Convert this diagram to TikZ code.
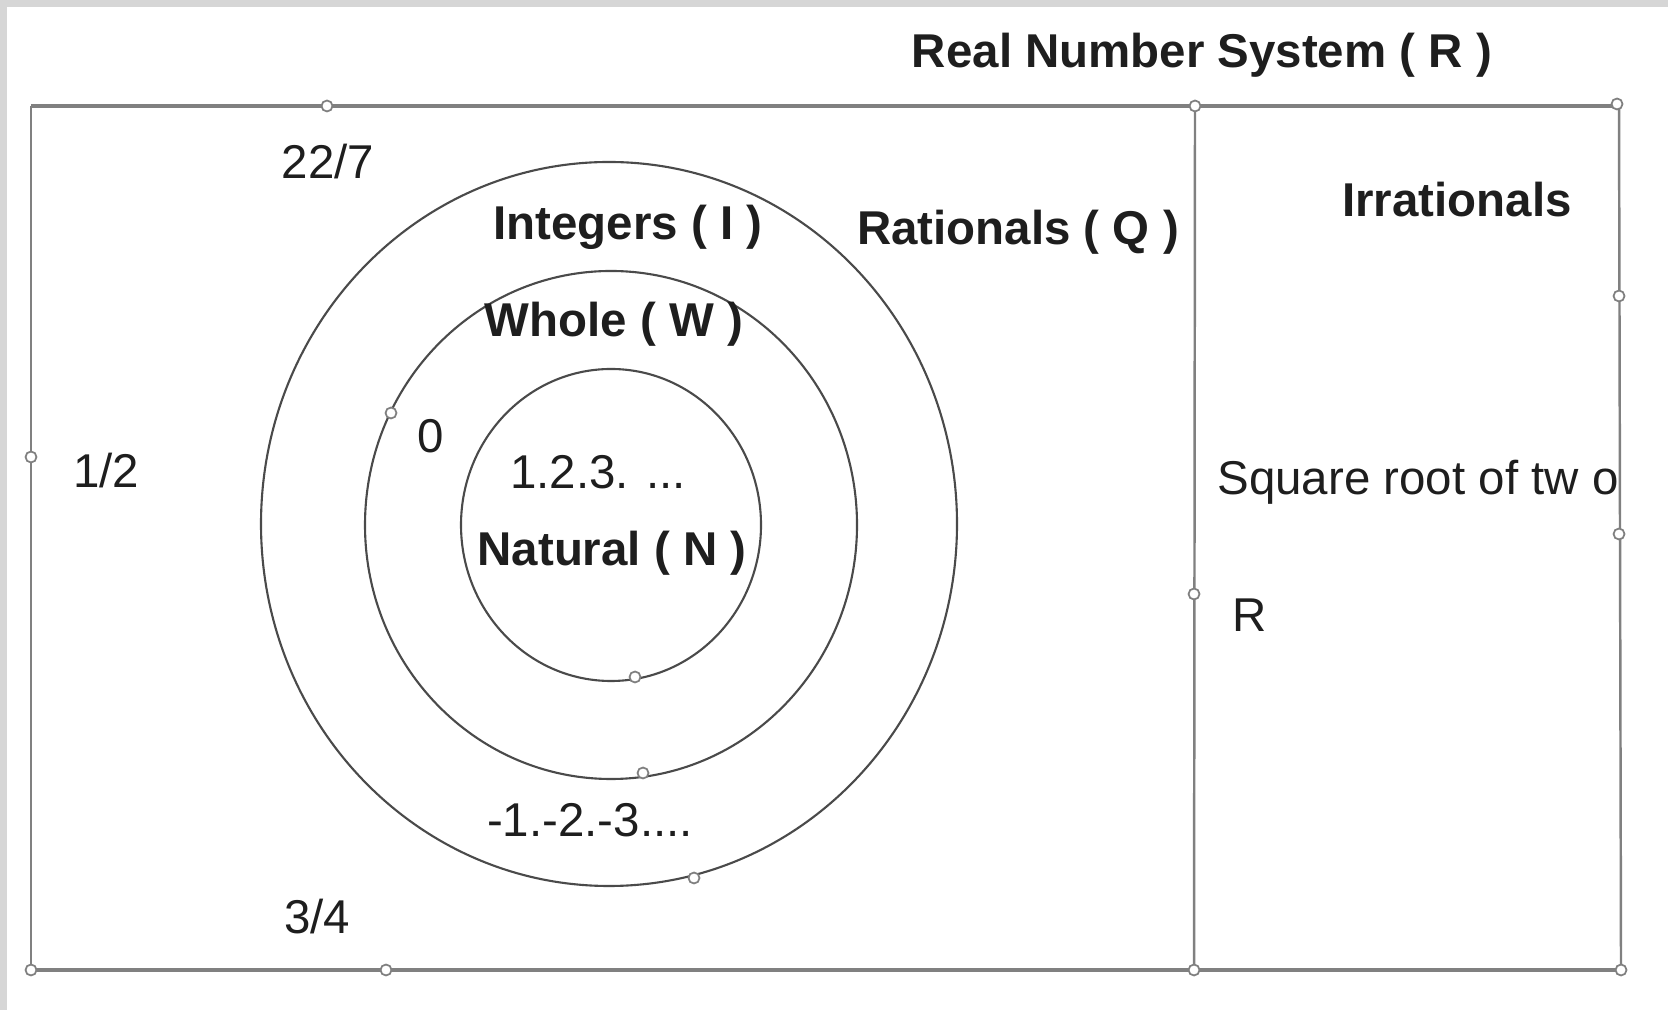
\documentclass[tikz,border=0pt]{standalone}
\usepackage{fontspec}
\setmainfont{Liberation Sans}
\definecolor{frame}{HTML}{808080}
\definecolor{ring}{HTML}{4A4A4A}
\definecolor{ink}{HTML}{1E1E1E}
\definecolor{edge}{HTML}{D6D6D6}

\begin{document}
\begin{tikzpicture}[x=0.1mm, y=0.1mm, every node/.style={text=ink},
    setname/.style={font=\bfseries\fontsize{13.5}{16}\selectfont},
    member/.style={font=\fontsize{13.5}{16}\selectfont},
    handle/.style={circle, draw=frame, fill=white, line width=0.5pt, inner sep=0pt, minimum size=1.1mm}]
  \useasboundingbox (0,0) rectangle (1668,1010);
  % Light textured edge of the original image.
  \fill[edge] (0,1003) rectangle (1668,1010);
  \fill[edge] (0,0) rectangle (7,1010);

  % Corners of the real-number box and the divider.
  \coordinate (tl) at (31,904);
  \coordinate (tr) at (1619,904);
  \coordinate (bl) at (31,40);
  \coordinate (br) at (1621,40);
  \coordinate (dt) at (1195,904);
  \coordinate (db) at (1194,40);
  \draw[frame,line width=1.1pt] (tl) -- (tr);
  \draw[frame,line width=1.1pt] (bl) -- (br);
  \draw[frame,line width=0.7pt] (tl) -- (bl);
  \draw[frame,line width=0.7pt] (tr) -- (br);
  \draw[frame,line width=0.7pt] (dt) -- (db);

  % Nested sets: integers, whole, natural.
  \draw[ring,line width=0.6pt] (609,486) ellipse (348 and 362);
  \draw[ring,line width=0.6pt] (611,485) ellipse (246 and 254);
  \draw[ring,line width=0.6pt] (611,485) ellipse (150 and 156);

  \node[setname] (title) at (1202,955) {Real Number System ( R )};
  \node[setname] (integers) at (628,783) {Integers ( I )};
  \node[setname] (rationals) at (1018,778) {Rationals ( Q )};
  \node[setname] (irrationals) at (1457,810) {Irrationals};
  \node[setname] (whole) at (614,686) {Whole ( W )};
  \node[setname] (natural) at (612,457) {Natural ( N )};

  \node[member] (pi) at (328,848) {22/7};
  \node[member] (zero) at (431,574) {0};
  \node[member] (half) at (106,539) {1/2};
  \node[member] (counting) at (598,538) {1.2.3. ...};
  \node[member] (sqrttwo) at (1418,528) {Square root of tw o};
  \node[member] (rlabel) at (1250,395) {R};
  \node[member] (negatives) at (590,190) {-1.-2.-3....};
  \node[member] (quarter) at (317,93) {3/4};

  % Leftover selection handles.
  \node[handle] (h1) at (327,904) {};
  \node[handle] (h2) at (dt) {};
  \node[handle] (h3) at (1617,906) {};
  \node[handle] (h4) at (31,553) {};
  \node[handle] (h5) at (1619,714) {};
  \node[handle] (h6) at (1619,476) {};
  \node[handle] (h7) at (1194,416) {};
  \node[handle] (h8) at (bl) {};
  \node[handle] (h9) at (386,40) {};
  \node[handle] (h10) at (db) {};
  \node[handle] (h11) at (br) {};
  \node[handle] (h12) at (391,597) {};
  \node[handle] (h13) at (635,333) {};
  \node[handle] (h14) at (643,237) {};
  \node[handle] (h15) at (694,132) {};
\end{tikzpicture}
\end{document}
